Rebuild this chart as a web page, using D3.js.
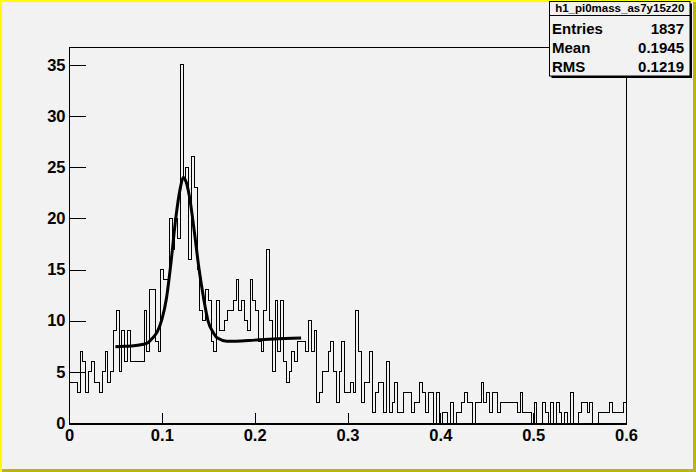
<!DOCTYPE html>
<html>
<head>
<meta charset="utf-8">
<script src="https://cdn.jsdelivr.net/npm/d3@7"></script>
<style>
  body { margin: 0; background: #f2f2f2; }
  svg { display: block; }
  text { font-family: "Liberation Sans", Arial, Helvetica, sans-serif; }
</style>
</head>
<body>
<svg id="chart" width="696" height="472"></svg>
<script>
// bin contents, 200 bins of 0.003 from 0 to 0.6
var counts = [
   4, 4, 4, 3, 7, 6, 3, 5, 6, 4,   4, 3, 5, 7, 4, 5, 9,11, 5, 9,
   6, 9, 6, 6, 6, 6, 6,11, 7,13,  13, 8, 7,15,14,14,20,17,20,18,
  35,24,25,16,26,23,15,11,10,13,  12, 8, 7,12, 9, 9,10,11,11,12,
  14,11,12,10, 9,14,12,11, 8, 7,  11,17,10, 5,12, 7,12, 6, 4, 5,
   7, 6, 8, 8, 8, 7,10, 7, 9, 2,   3, 5, 5, 7, 8, 5, 2, 5, 8, 3,
   3, 4, 3,11, 7, 2, 4, 4, 7, 1,   3, 4, 4, 1, 6, 1, 2, 4, 1, 1,
   3, 3, 3, 1, 2, 2, 4, 3, 1, 3,   3, 0, 3, 0, 1, 1, 0, 2, 0, 1,
   1, 2, 3, 2, 2, 0, 2, 2, 4, 2,   3, 1, 3, 3, 1, 2, 2, 2, 2, 2,
   2, 1, 3, 1, 1, 1, 0, 2, 0, 0,   2, 1, 0, 2, 0, 2, 1, 0, 1, 0,
   3, 0, 0, 1, 2, 2, 1, 2, 0, 0,   1, 1, 1, 1, 2, 1, 1, 1, 1, 2
];
var binLow = 0;
var binWidth = 0.003;

// fitted curve
var fitX = [0.05, 0.06, 0.07, 0.08, 0.085, 0.09, 0.095, 0.10, 0.105, 0.11, 0.115, 0.12, 0.123,
            0.126, 0.13, 0.135, 0.14, 0.145, 0.15, 0.155, 0.16, 0.17, 0.18, 0.20, 0.22, 0.25];
var fitY = [7.45, 7.5, 7.55, 7.7, 7.85, 8.3, 8.9, 10.1, 12.2, 15.8, 20.0, 23.0, 24.0,
            23.6, 22.0, 18.7, 15.1, 12.2, 9.9, 8.9, 8.3, 8.0, 8.0, 8.1, 8.2, 8.3];

var xTicks = [0, 0.1, 0.2, 0.3, 0.4, 0.5, 0.6];
var yTicks = [0, 5, 10, 15, 20, 25, 30, 35];

var statTitle = "h1_pi0mass_as7y15z20";
var statLabels = ["Entries", "Mean", "RMS"];
var statValues = ["1837", "0.1945", "0.1219"];

var svg = d3.select("#chart");
var W = 696, H = 472;
var fl = 69, fr = 626, ft = 47, fb = 423;

var x = d3.scaleLinear().domain([0, 0.6]).range([fl, fr]);
var y = d3.scaleLinear().domain([0, 36.75]).range([fb, ft]);

svg.append("rect").attr("width", W).attr("height", H).attr("fill", "#f2f2f2");

// canvas border
svg.append("rect").attr("x", 0).attr("y", 0).attr("width", W).attr("height", 2).attr("fill", "#ffff00");
svg.append("rect").attr("x", 0).attr("y", 0).attr("width", 2).attr("height", H).attr("fill", "#ffff00");
svg.append("rect").attr("x", W - 3).attr("y", 2).attr("width", 3).attr("height", H - 2).attr("fill", "#b8b800");
svg.append("rect").attr("x", 2).attr("y", H - 3).attr("width", W - 2).attr("height", 3).attr("fill", "#b8b800");

// histogram outline
var pts = [[x(binLow), y(0)]];
counts.forEach(function(c, i) {
  var lo = binLow + i * binWidth;
  pts.push([x(lo), y(c)]);
  pts.push([x(lo + binWidth), y(c)]);
});
pts.push([x(binLow + counts.length * binWidth), y(0)]);

svg.append("path")
   .attr("d", d3.line()(pts))
   .attr("fill", "none")
   .attr("stroke", "#000")
   .attr("stroke-width", 1)
   .attr("shape-rendering", "crispEdges");

// fit
var fitPts = fitX.map(function(d, i) { return [d, fitY[i]]; });
svg.append("path")
   .attr("d", d3.line().x(function(d) { return x(d[0]); })
                       .y(function(d) { return y(d[1]); })
                       .curve(d3.curveMonotoneX)(fitPts))
   .attr("fill", "none")
   .attr("stroke", "#000")
   .attr("stroke-width", 3);

// frame
svg.append("rect")
   .attr("x", fl + 0.5).attr("y", ft + 0.5)
   .attr("width", fr - fl).attr("height", fb - ft)
   .attr("fill", "none").attr("stroke", "#000");

// axes, ticks drawn inside the frame like ROOT
var gx = svg.append("g").attr("transform", "translate(0," + (fb + 0.5) + ")");
gx.call(d3.axisBottom(x).tickValues(d3.range(0, 0.6001, 0.02)).tickSize(-5.5).tickFormat(""));
gx.call(d3.axisBottom(x).tickValues(xTicks).tickSize(-11).tickPadding(6).tickFormat(d3.format("")));

var gy = svg.append("g").attr("transform", "translate(" + (fl + 0.5) + ",0)");
gy.call(d3.axisLeft(y).tickValues(d3.range(0, 37, 1)).tickSize(-8.4).tickFormat(""));
gy.call(d3.axisLeft(y).tickValues(yTicks).tickSize(-16.7).tickPadding(4).tickFormat(d3.format("")));

svg.selectAll(".domain").remove();
svg.selectAll(".tick line").attr("stroke", "#000").attr("shape-rendering", "crispEdges");
svg.selectAll(".tick text")
   .attr("fill", "#000")
   .style("font-size", "16.5px")
   .style("font-weight", "bold");

// bottom axis line a bit heavier
svg.append("line")
   .attr("x1", fl).attr("x2", fr + 1).attr("y1", fb + 1).attr("y2", fb + 1)
   .attr("stroke", "#000").attr("stroke-width", 1).attr("shape-rendering", "crispEdges");

// stat box
var bx = 549.5, by = 1.5, bw = 140.5, bh = 74.5;
svg.append("rect").attr("x", bx + 2).attr("y", by + 2).attr("width", bw).attr("height", bh).attr("fill", "#000");
svg.append("rect").attr("x", bx).attr("y", by).attr("width", bw).attr("height", bh)
   .attr("fill", "#f2f2f2").attr("stroke", "#000");
svg.append("line").attr("x1", bx).attr("x2", bx + bw).attr("y1", 15.5).attr("y2", 15.5).attr("stroke", "#000");

svg.append("text")
   .attr("x", bx + bw / 2).attr("y", 12)
   .attr("text-anchor", "middle")
   .style("font-size", "11.5px")
   .style("font-weight", "bold")
   .text(statTitle);

var rowY = [33.5, 52.5, 71.5];
statLabels.forEach(function(lab, i) {
  svg.append("text").attr("x", 552).attr("y", rowY[i])
     .style("font-size", "15px").style("font-weight", "bold").text(lab);
  svg.append("text").attr("x", 684).attr("y", rowY[i]).attr("text-anchor", "end")
     .style("font-size", "15px").style("font-weight", "bold").text(statValues[i]);
});
</script>
</body>
</html>
